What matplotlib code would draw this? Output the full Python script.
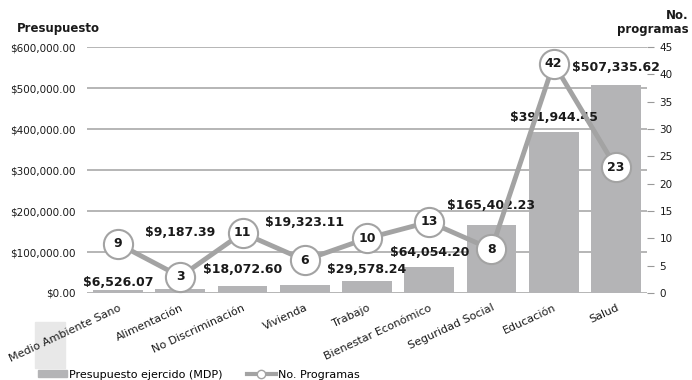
import numpy as np
import matplotlib.pyplot as plt
from matplotlib.patches import Rectangle
from matplotlib.lines import Line2D

# Presupuesto ejercido (MDP) y número de programas por derecho social
categorias = ['Medio Ambiente Sano', 'Alimentación', 'No Discriminación', 'Vivienda',
              'Trabajo', 'Bienestar Económico', 'Seguridad Social', 'Educación', 'Salud']
presupuesto = [6526.07, 9187.39, 18072.60, 19323.11, 29578.24,
               64054.20, 165402.23, 391944.45, 507335.62]
programas = [9, 3, 11, 6, 10, 13, 8, 42, 23]

# desplazamiento vertical (pixeles) de cada etiqueta de monto sobre su barra
desplaz = [8, 57, 16, 63, 11, 14, 20, 15, 18]

gris_barra = '#b4b4b6'
gris_linea = '#a3a3a3'
texto = '#1a1a1a'

fig = plt.figure(figsize=(6.92, 3.80), dpi=100)

# recuadro claro detrás de la leyenda y las etiquetas
fig.patches.append(Rectangle((35 / 692, 12 / 380), 30 / 692, 46 / 380,
                             transform=fig.transFigure, color='#e8e8e8', zorder=-5))

ax = fig.add_axes([0.1257, 0.229, 0.935 - 0.1257, 0.876 - 0.229])
ax.patch.set_alpha(0)
x = np.arange(len(categorias))

ax.set_axisbelow(True)
ax.yaxis.grid(True, color='#b0b0b0', lw=1.3)
ax.bar(x, presupuesto, width=0.8, color=gris_barra, zorder=2)
ax.set_xlim(-0.5, len(categorias) - 0.5)
ax.set_ylim(0, 600000)
ax.set_yticks(np.arange(0, 600001, 100000))
ax.set_yticklabels(['${:,.2f}'.format(v) for v in np.arange(0, 600001, 100000)],
                   fontsize=7.5, color=texto)
ax.tick_params(axis='y', length=0, pad=8)
ax.set_xticks(x)
ax.set_xticklabels(categorias, rotation=25, ha='right', rotation_mode='anchor',
                   fontsize=8, color=texto)
ax.tick_params(axis='x', length=0, pad=7)
for s in ax.spines.values():
    s.set_visible(False)

for xi, v, d in zip(x, presupuesto, desplaz):
    ax.annotate('${:,.2f}'.format(v), (xi, v), xytext=(0, d), textcoords='offset pixels',
                ha='center', va='center', fontsize=9, fontweight='bold', color=texto,
                zorder=5)

ax2 = ax.twinx()
ax2.plot(x, programas, color=gris_linea, lw=3.5, zorder=3, solid_capstyle='round')
ax2.plot(x, programas, 'o', ms=21, mfc='white', mec=gris_linea, mew=1.5, zorder=4)
for xi, n in zip(x, programas):
    ax2.text(xi, n, str(n), ha='center', va='center', fontsize=9, fontweight='bold',
             color=texto, zorder=5)
ax2.set_ylim(0, 45)
ax2.set_yticks(np.arange(0, 46, 5))
ax2.tick_params(axis='y', length=5, width=0.8, color='#999999', labelsize=7.5,
                labelcolor=texto, pad=4)
for s in ax2.spines.values():
    s.set_visible(False)

fig.text(0.025, 0.915, 'Presupuesto', fontsize=8.5, fontweight='bold', color=texto)
fig.text(0.995, 0.905, 'No.\nprogramas', fontsize=8.5, fontweight='bold', color=texto,
         ha='right', va='bottom', linespacing=1.1)

handles = [Rectangle((0, 0), 1, 1, color=gris_barra),
           Line2D([], [], color=gris_linea, lw=3, marker='o', ms=6,
                  mfc='white', mec=gris_linea)]
fig.legend(handles, ['Presupuesto ejercido (MDP)', 'No. Programas'], ncol=2,
           loc='lower left', bbox_to_anchor=(0.04, -0.025), frameon=False,
           fontsize=8, handlelength=2.6, handleheight=0.5, handletextpad=0.2,
           columnspacing=2.2)

fig.savefig('out.png', dpi=100)
